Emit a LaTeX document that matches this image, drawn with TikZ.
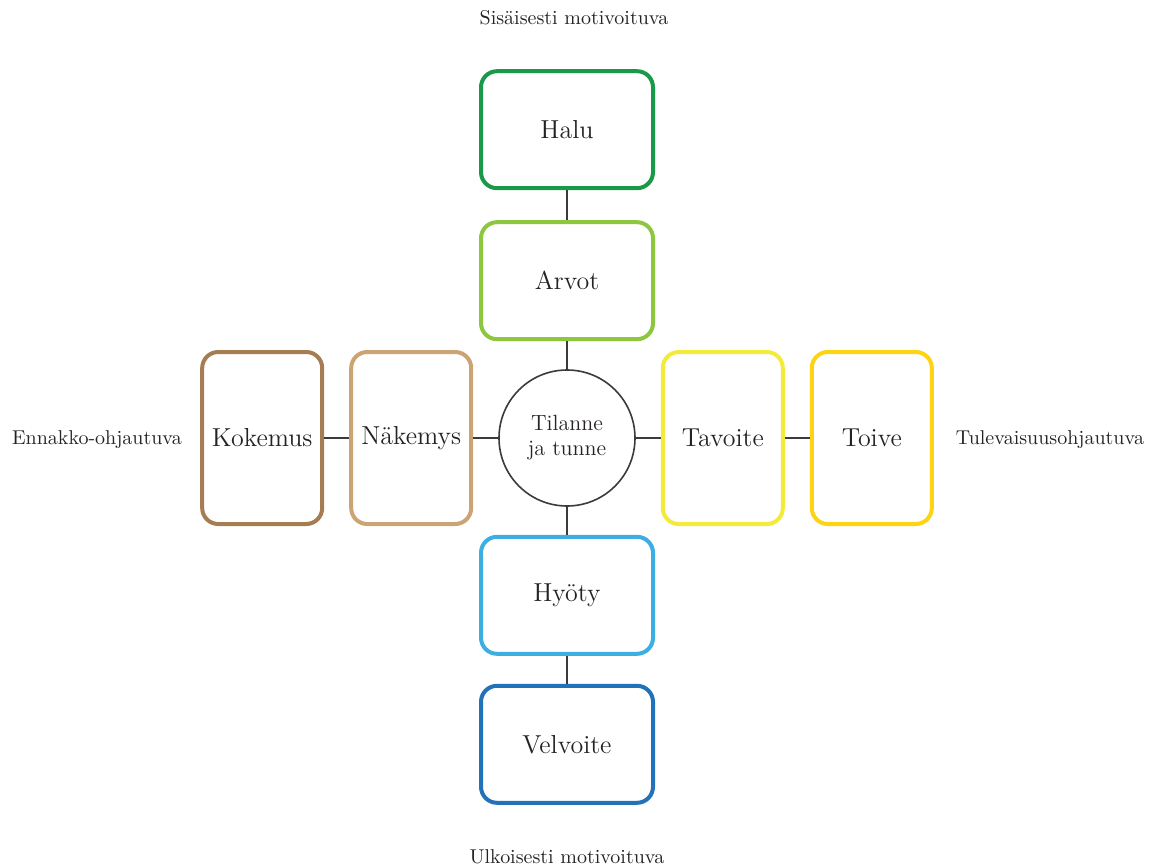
\documentclass[tikz,border=0pt]{standalone}
\usepackage{tikz}
\usetikzlibrary{positioning}
\definecolor{Green}{HTML}{1A9A48}
\definecolor{LightGreen}{HTML}{8DC63F}
\definecolor{LightBlue}{HTML}{3CAEE2}
\definecolor{Blue}{HTML}{2272B9}
\definecolor{Brown}{HTML}{A67C52}
\definecolor{Tan}{HTML}{CCA474}
\definecolor{Yellow}{HTML}{F4EA3A}
\definecolor{Gold}{HTML}{FDD314}
\definecolor{Ink}{HTML}{262223}
\definecolor{Line}{HTML}{3E3A3B}
\tikzset{
  vbox/.style={draw,line width=2pt,rounded corners=8pt,fill=white,align=center,
              minimum width=86pt,minimum height=58.5pt,inner sep=2pt,
              font=\fontsize{13}{15}\selectfont,text=Ink},
  hbox/.style={draw,line width=2pt,rounded corners=8pt,fill=white,align=center,
              minimum width=60pt,minimum height=86pt,inner sep=2pt,
              font=\fontsize{13}{15}\selectfont,text=Ink},
  hub/.style={circle,draw=Line,line width=0.8pt,minimum size=68pt,inner sep=0pt,
              align=center,font=\fontsize{11}{12.5}\selectfont,text=Ink},
  link/.style={line width=1pt,draw=Line},
  note/.style={font=\normalsize,align=center,text=Ink}
}
\begin{document}
\begin{tikzpicture}[x=0.5pt,y=-0.5pt,node distance=14pt and 12.5pt]
  \useasboundingbox (0,0) rectangle (1158,868);
  \node[hub] (tilanne) at (567,438) {Tilanne\\ja tunne};
  \node[vbox,draw=LightGreen,above=of tilanne] (arvot) {Arvot};
  \node[vbox,draw=Green,above=15pt of arvot] (halu) {Halu};
  \node[vbox,draw=LightBlue,below=of tilanne] (hyoty) {Hyöty};
  \node[vbox,draw=Blue,below=of hyoty] (velvoite) {Velvoite};
  \node[hbox,draw=Tan,left=of tilanne] (nakemys) {Näkemys};
  \node[hbox,draw=Brown,left=of nakemys] (kokemus) {Kokemus};
  \node[hbox,draw=Yellow,right=of tilanne] (tavoite) {Tavoite};
  \node[hbox,draw=Gold,right=of tavoite] (toive) {Toive};

  \node[note] (sisainen) at (574,18) {Sisäisesti motivoituva};
  \node[note] (ulkoinen) at (567,857) {Ulkoisesti motivoituva};
  \node[note] (ennakko) at (97,440) {Ennakko-ohjautuva};
  \node[note] (tuleva) at (1050,440) {Tulevaisuusohjautuva};

  \draw[link] (halu) -- (arvot);
  \draw[link] (arvot) -- (tilanne);
  \draw[link] (tilanne) -- (hyoty);
  \draw[link] (hyoty) -- (velvoite);
  \draw[link] (kokemus) -- (nakemys);
  \draw[link] (nakemys) -- (tilanne);
  \draw[link] (tilanne) -- (tavoite);
  \draw[link] (tavoite) -- (toive);
\end{tikzpicture}
\end{document}
